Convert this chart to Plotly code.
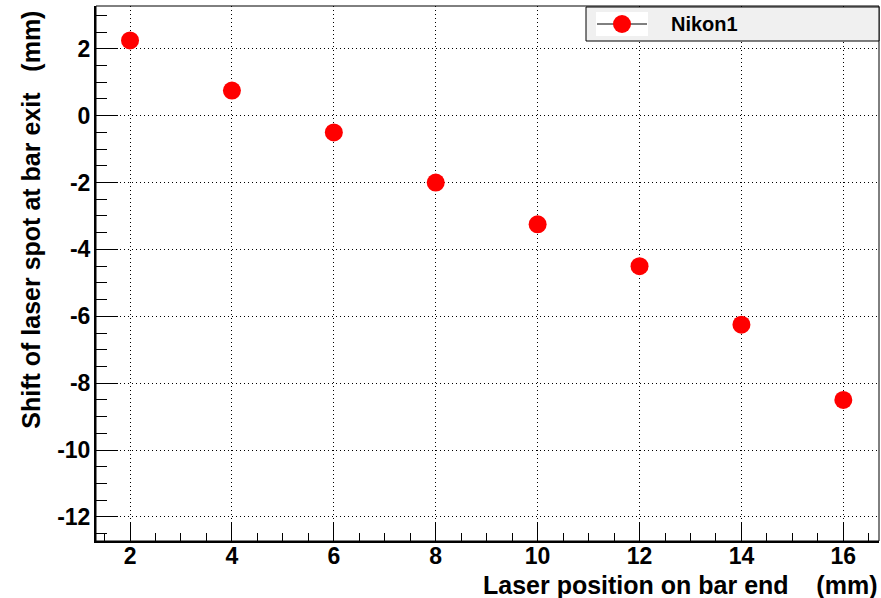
import plotly.graph_objects as go

x_pos = [2, 4, 6, 8, 10, 12, 14, 16]
shift = [2.25, 0.75, -0.5, -2.0, -3.25, -4.5, -6.25, -8.5]
series_name = "Nikon1"
x_ticks = [2, 4, 6, 8, 10, 12, 14, 16]
y_ticks = [2, 0, -2, -4, -6, -8, -10, -12]
x_title = "Laser position on bar end" + "\u00a0" * 4 + "(mm)"
y_title = "Shift of laser spot at bar exit" + "\u00a0" * 3 + "(mm)"

FONT = "Liberation Sans, Arial, sans-serif"
W, H = 881, 598
ML, MR, MT, MB = 96, 2, 6, 57
PW, PH = W - ML - MR, H - MT - MB


def px(xp):
    return (xp - ML) / PW


def py(yp):
    return 1 - (yp - MT) / PH


fig = go.Figure()
fig.add_trace(go.Scatter(
    x=x_pos, y=shift, mode="markers", name=series_name, showlegend=False,
    marker=dict(color="#ff0000", size=18, line=dict(width=0)),
))

axis_common = dict(
    showgrid=True, gridcolor="black", gridwidth=1, griddash="1px,3px",
    zeroline=False, ticks="inside", tickcolor="black", tickwidth=1,
    showline=True, linecolor="black", linewidth=2,
    tickfont=dict(family=FONT, size=23, color="black", weight="bold"),
)

fig.update_xaxes(
    range=[1.332, 16.70], tickvals=x_ticks, ticktext=[str(v) for v in x_ticks],
    ticklen=18, ticklabelstandoff=-7,
    minor=dict(ticks="inside", ticklen=8, dtick=0.5, tick0=0, tickcolor="black", showgrid=False),
    **axis_common,
)
fig.update_yaxes(
    range=[-12.72, 3.28], tickvals=y_ticks, ticktext=[str(v) for v in y_ticks],
    ticklen=22, ticklabelstandoff=-1,
    minor=dict(ticks="inside", ticklen=11, dtick=0.5, tick0=0, tickcolor="black", showgrid=False),
    **axis_common,
)

# frame
fig.add_shape(type="rect", xref="paper", yref="paper", x0=0, y0=0, x1=1, y1=1,
              line=dict(color="black", width=1), layer="above")

# legend box (ROOT style)
fig.add_shape(type="rect", xref="paper", yref="paper",
              x0=px(586), x1=1, y0=py(41), y1=py(7),
              fillcolor="#f0f0f0", line=dict(color="black", width=1), layer="above")
fig.add_shape(type="rect", xref="paper", yref="paper",
              x0=px(596), x1=px(648), y0=py(36), y1=py(12),
              fillcolor="white", line=dict(width=0), layer="above")
fig.add_shape(type="line", xref="paper", yref="paper",
              x0=px(597), x1=px(647), y0=py(24), y1=py(24),
              line=dict(color="black", width=1), layer="above")
fig.add_shape(type="circle", xref="paper", yref="paper",
              xsizemode="pixel", ysizemode="pixel",
              xanchor=px(622), yanchor=py(24), x0=-9, x1=9, y0=-9, y1=9,
              fillcolor="#ff0000", line=dict(width=0), layer="above")
fig.add_annotation(text=series_name, xref="paper", yref="paper", x=px(669), y=py(24),
                   xanchor="left", yanchor="middle", showarrow=False,
                   font=dict(family=FONT, size=20, color="black", weight="bold"))

fig.add_annotation(text=x_title, xref="paper", yref="paper", x=1, y=-0.052,
                   xanchor="right", yanchor="top", showarrow=False,
                   font=dict(family=FONT, size=25, color="black", weight="bold"))
fig.add_annotation(text=y_title, xref="paper", yref="paper", x=-0.083, y=0.995,
                   xanchor="center", yanchor="top", textangle=-90, showarrow=False,
                   font=dict(family=FONT, size=25, color="black", weight="bold"))

fig.update_layout(
    width=W, height=H,
    margin=dict(l=ML, r=MR, t=MT, b=MB),
    paper_bgcolor="white", plot_bgcolor="white",
    showlegend=False,
)

fig.write_html("out.html", config={"displayModeBar": False},
               post_script="document.body.style.margin='0';")
